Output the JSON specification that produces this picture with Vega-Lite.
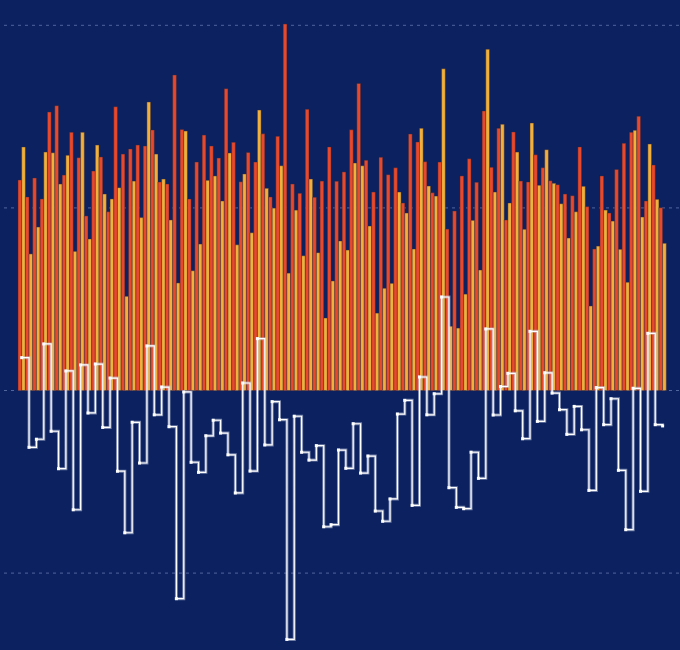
{
"$schema": "https://vega.github.io/schema/vega-lite/v6.json",
"width": 680, "height": 650,
"autosize": {"type": "fit", "contains": "padding"},
"padding": 0,
"background": "#0b2160",
"config": {"view": {"stroke": null}},
"datasets": {
"grid": [{"v": -1}, {"v": 0}, {"v": 1}, {"v": 2}],
"bars": [
{"g":0,"s":"A","v":1.153},{"g":0,"s":"B","v":1.334},
{"g":1,"s":"A","v":1.060},{"g":1,"s":"B","v":0.748},
{"g":2,"s":"A","v":1.164},{"g":2,"s":"B","v":0.895},
{"g":3,"s":"A","v":1.049},{"g":3,"s":"B","v":1.306},
{"g":4,"s":"A","v":1.525},{"g":4,"s":"B","v":1.302},
{"g":5,"s":"A","v":1.560},{"g":5,"s":"B","v":1.131},
{"g":6,"s":"A","v":1.180},{"g":6,"s":"B","v":1.288},
{"g":7,"s":"A","v":1.414},{"g":7,"s":"B","v":0.762},
{"g":8,"s":"A","v":1.275},{"g":8,"s":"B","v":1.414},
{"g":9,"s":"A","v":0.956},{"g":9,"s":"B","v":0.830},
{"g":10,"s":"A","v":1.202},{"g":10,"s":"B","v":1.344},
{"g":11,"s":"A","v":1.279},{"g":11,"s":"B","v":1.076},
{"g":12,"s":"A","v":0.979},{"g":12,"s":"B","v":1.049},
{"g":13,"s":"A","v":1.554},{"g":13,"s":"B","v":1.111},
{"g":14,"s":"A","v":1.295},{"g":14,"s":"B","v":0.516},
{"g":15,"s":"A","v":1.323},{"g":15,"s":"B","v":1.147},
{"g":16,"s":"A","v":1.344},{"g":16,"s":"B","v":0.947},
{"g":17,"s":"A","v":1.339},{"g":17,"s":"B","v":1.580},
{"g":18,"s":"A","v":1.427},{"g":18,"s":"B","v":1.295},
{"g":19,"s":"A","v":1.142},{"g":19,"s":"B","v":1.158},
{"g":20,"s":"A","v":1.131},{"g":20,"s":"B","v":0.934},
{"g":21,"s":"A","v":1.728},{"g":21,"s":"B","v":0.589},
{"g":22,"s":"A","v":1.430},{"g":22,"s":"B","v":1.421},
{"g":23,"s":"A","v":1.049},{"g":23,"s":"B","v":0.656},
{"g":24,"s":"A","v":1.251},{"g":24,"s":"B","v":0.802},
{"g":25,"s":"A","v":1.399},{"g":25,"s":"B","v":1.151},
{"g":26,"s":"A","v":1.339},{"g":26,"s":"B","v":1.175},
{"g":27,"s":"A","v":1.273},{"g":27,"s":"B","v":1.038},
{"g":28,"s":"A","v":1.653},{"g":28,"s":"B","v":1.301},
{"g":29,"s":"A","v":1.359},{"g":29,"s":"B","v":0.798},
{"g":30,"s":"A","v":1.143},{"g":30,"s":"B","v":1.186},
{"g":31,"s":"A","v":1.304},{"g":31,"s":"B","v":0.864},
{"g":32,"s":"A","v":1.251},{"g":32,"s":"B","v":1.536},
{"g":33,"s":"A","v":1.406},{"g":33,"s":"B","v":1.107},
{"g":34,"s":"A","v":1.060},{"g":34,"s":"B","v":0.999},
{"g":35,"s":"A","v":1.392},{"g":35,"s":"B","v":1.231},
{"g":36,"s":"A","v":2.007},{"g":36,"s":"B","v":0.643},
{"g":37,"s":"A","v":1.131},{"g":37,"s":"B","v":0.988},
{"g":38,"s":"A","v":1.080},{"g":38,"s":"B","v":0.738},
{"g":39,"s":"A","v":1.540},{"g":39,"s":"B","v":1.158},
{"g":40,"s":"A","v":1.058},{"g":40,"s":"B","v":0.755},
{"g":41,"s":"A","v":1.147},{"g":41,"s":"B","v":0.397},
{"g":42,"s":"A","v":1.334},{"g":42,"s":"B","v":0.600},
{"g":43,"s":"A","v":1.146},{"g":43,"s":"B","v":0.819},
{"g":44,"s":"A","v":1.197},{"g":44,"s":"B","v":0.769},
{"g":45,"s":"A","v":1.428},{"g":45,"s":"B","v":1.246},
{"g":46,"s":"A","v":1.682},{"g":46,"s":"B","v":1.231},
{"g":47,"s":"A","v":1.261},{"g":47,"s":"B","v":0.901},
{"g":48,"s":"A","v":1.087},{"g":48,"s":"B","v":0.424},
{"g":49,"s":"A","v":1.277},{"g":49,"s":"B","v":0.560},
{"g":50,"s":"A","v":1.182},{"g":50,"s":"B","v":0.587},
{"g":51,"s":"A","v":1.220},{"g":51,"s":"B","v":1.087},
{"g":52,"s":"A","v":1.027},{"g":52,"s":"B","v":0.972},
{"g":53,"s":"A","v":1.405},{"g":53,"s":"B","v":0.775},
{"g":54,"s":"A","v":1.361},{"g":54,"s":"B","v":1.436},
{"g":55,"s":"A","v":1.253},{"g":55,"s":"B","v":1.120},
{"g":56,"s":"A","v":1.083},{"g":56,"s":"B","v":1.065},
{"g":57,"s":"A","v":1.251},{"g":57,"s":"B","v":1.762},
{"g":58,"s":"A","v":0.884},{"g":58,"s":"B","v":0.352},
{"g":59,"s":"A","v":0.983},{"g":59,"s":"B","v":0.342},
{"g":60,"s":"A","v":1.175},{"g":60,"s":"B","v":0.528},
{"g":61,"s":"A","v":1.269},{"g":61,"s":"B","v":0.932},
{"g":62,"s":"A","v":1.140},{"g":62,"s":"B","v":0.660},
{"g":63,"s":"A","v":1.531},{"g":63,"s":"B","v":1.869},
{"g":64,"s":"A","v":1.222},{"g":64,"s":"B","v":1.087},
{"g":65,"s":"A","v":1.436},{"g":65,"s":"B","v":1.458},
{"g":66,"s":"A","v":0.934},{"g":66,"s":"B","v":1.027},
{"g":67,"s":"A","v":1.416},{"g":67,"s":"B","v":1.306},
{"g":68,"s":"A","v":1.147},{"g":68,"s":"B","v":0.883},
{"g":69,"s":"A","v":1.142},{"g":69,"s":"B","v":1.465},
{"g":70,"s":"A","v":1.291},{"g":70,"s":"B","v":1.124},
{"g":71,"s":"A","v":1.220},{"g":71,"s":"B","v":1.319},
{"g":72,"s":"A","v":1.149},{"g":72,"s":"B","v":1.135},
{"g":73,"s":"A","v":1.127},{"g":73,"s":"B","v":1.023},
{"g":74,"s":"A","v":1.076},{"g":74,"s":"B","v":0.835},
{"g":75,"s":"A","v":1.067},{"g":75,"s":"B","v":0.979},
{"g":76,"s":"A","v":1.334},{"g":76,"s":"B","v":1.118},
{"g":77,"s":"A","v":1.007},{"g":77,"s":"B","v":0.463},
{"g":78,"s":"A","v":0.775},{"g":78,"s":"B","v":0.791},
{"g":79,"s":"A","v":1.175},{"g":79,"s":"B","v":0.988},
{"g":80,"s":"A","v":0.972},{"g":80,"s":"B","v":0.928},
{"g":81,"s":"A","v":1.211},{"g":81,"s":"B","v":0.773},
{"g":82,"s":"A","v":1.354},{"g":82,"s":"B","v":0.593},
{"g":83,"s":"A","v":1.414},{"g":83,"s":"B","v":1.425},
{"g":84,"s":"A","v":1.502},{"g":84,"s":"B","v":0.950},
{"g":85,"s":"A","v":1.038},{"g":85,"s":"B","v":1.350},
{"g":86,"s":"A","v":1.235},{"g":86,"s":"B","v":1.047},
{"g":87,"s":"A","v":1.001},{"g":87,"s":"B","v":0.806}
],
"diff": [
{"g":0,"d":0.180},{"g":1,"d":-0.311},{"g":2,"d":-0.267},{"g":3,"d":0.255},{"g":4,"d":-0.223},
{"g":5,"d":-0.428},{"g":6,"d":0.107},{"g":7,"d":-0.653},{"g":8,"d":0.140},{"g":9,"d":-0.123},
{"g":10,"d":0.145},{"g":11,"d":-0.202},{"g":12,"d":0.068},{"g":13,"d":-0.442},{"g":14,"d":-0.779},
{"g":15,"d":-0.174},{"g":16,"d":-0.397},{"g":17,"d":0.244},{"g":18,"d":-0.133},{"g":19,"d":0.019},
{"g":20,"d":-0.198},{"g":21,"d":-1.140},{"g":22,"d":-0.008},{"g":23,"d":-0.393},{"g":24,"d":-0.448},
{"g":25,"d":-0.248},{"g":26,"d":-0.163},{"g":27,"d":-0.233},{"g":28,"d":-0.352},{"g":29,"d":-0.561},
{"g":30,"d":0.041},{"g":31,"d":-0.441},{"g":32,"d":0.284},{"g":33,"d":-0.298},{"g":34,"d":-0.061},
{"g":35,"d":-0.160},{"g":36,"d":-1.363},{"g":37,"d":-0.141},{"g":38,"d":-0.338},{"g":39,"d":-0.381},
{"g":40,"d":-0.302},{"g":41,"d":-0.746},{"g":42,"d":-0.735},{"g":43,"d":-0.326},{"g":44,"d":-0.426},
{"g":45,"d":-0.182},{"g":46,"d":-0.452},{"g":47,"d":-0.359},{"g":48,"d":-0.660},{"g":49,"d":-0.716},
{"g":50,"d":-0.594},{"g":51,"d":-0.129},{"g":52,"d":-0.054},{"g":53,"d":-0.629},{"g":54,"d":0.074},
{"g":55,"d":-0.133},{"g":56,"d":-0.018},{"g":57,"d":0.512},{"g":58,"d":-0.532},{"g":59,"d":-0.640},
{"g":60,"d":-0.647},{"g":61,"d":-0.338},{"g":62,"d":-0.481},{"g":63,"d":0.337},{"g":64,"d":-0.134},
{"g":65,"d":0.022},{"g":66,"d":0.094},{"g":67,"d":-0.111},{"g":68,"d":-0.264},{"g":69,"d":0.324},
{"g":70,"d":-0.169},{"g":71,"d":0.097},{"g":72,"d":-0.014},{"g":73,"d":-0.105},{"g":74,"d":-0.240},
{"g":75,"d":-0.087},{"g":76,"d":-0.215},{"g":77,"d":-0.547},{"g":78,"d":0.016},{"g":79,"d":-0.187},
{"g":80,"d":-0.045},{"g":81,"d":-0.437},{"g":82,"d":-0.762},{"g":83,"d":0.012},{"g":84,"d":-0.552},
{"g":85,"d":0.313},{"g":86,"d":-0.187},{"g":87,"d":-0.194}
]
},
"layer": [
{
"data": {"name": "grid"},
"mark": {"type": "rule", "stroke": "#8193c9", "strokeOpacity": 0.6, "strokeWidth": 1, "strokeDash": [3, 4]},
"encoding": {
"y": {"field": "v", "type": "quantitative", "scale": {"domain": [-1.4211, 2.1386], "nice": false, "zero": false}, "axis": null}
}
},
{
"data": {"name": "bars"},
"mark": {"type": "bar", "stroke": "#3a2a3a", "strokeOpacity": 0.55, "strokeWidth": 0.8},
"encoding": {
"x": {"field": "g", "type": "ordinal", "scale": {"type": "band", "paddingInner": 0, "paddingOuter": 0, "range": [17, 665.3]}, "axis": null},
"xOffset": {"field": "s", "type": "nominal", "scale": {"paddingInner": 0, "paddingOuter": 0}},
"y": {"field": "v", "type": "quantitative", "axis": null},
"color": {"field": "s", "type": "nominal", "scale": {"domain": ["A", "B"], "range": ["#e8482b", "#f0b03b"]}, "legend": null}
}
},
{
"data": {"name": "diff"},
"mark": {"type": "line", "interpolate": "step-after", "stroke": "#c9cee3", "strokeOpacity": 0.55, "strokeWidth": 3},
"encoding": {
"x": {"field": "g", "type": "ordinal"},
"y": {"field": "d", "type": "quantitative"}
}
},
{
"data": {"name": "diff"},
"mark": {"type": "line", "interpolate": "step-after", "stroke": "#ffffff", "strokeWidth": 1.2},
"encoding": {
"x": {"field": "g", "type": "ordinal"},
"y": {"field": "d", "type": "quantitative"}
}
},
{
"data": {"name": "diff"},
"mark": {"type": "point", "shape": "square", "filled": true, "color": "#ffffff", "opacity": 1, "size": 9},
"encoding": {
"x": {"field": "g", "type": "ordinal"},
"y": {"field": "d", "type": "quantitative"}
}
}
]
}
